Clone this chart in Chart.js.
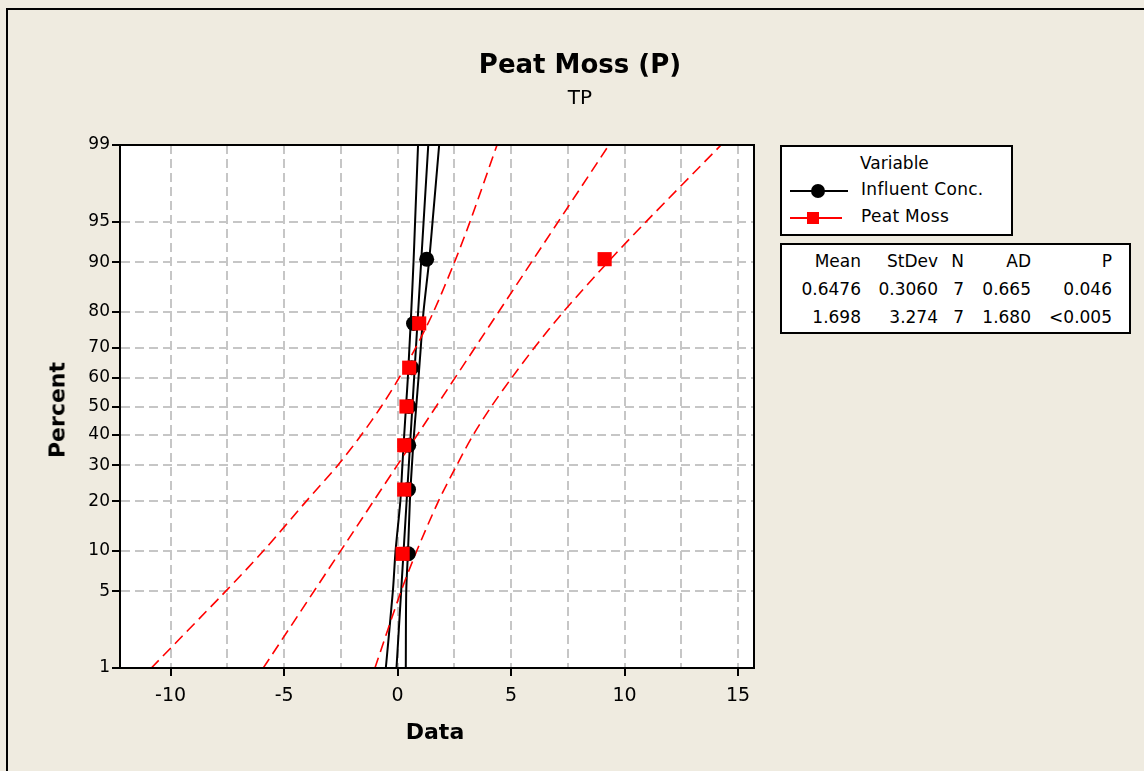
<!DOCTYPE html>
<html lang="en">
<head>
    <meta charset="UTF-8">
    <title>Peat Moss (P)</title>
    <script src="https://cdn.jsdelivr.net/npm/chart.js@4.4.1/dist/chart.umd.min.js"></script>
    <style>
        body { margin: 0; background: #efebe0; font-family: "DejaVu Sans", sans-serif; }
        #wrap { position: relative; width: 1144px; height: 771px; overflow: hidden; }
        #frame { position: absolute; left: 6px; top: 8px; width: 1160px; height: 790px; border: 2px solid #000; }
        canvas { position: absolute; left: 0; top: 0; }
        .txt { position: absolute; color: #000; white-space: nowrap; }
        #title { left: 0; width: 1160px; top: 49px; text-align: center; font-weight: bold; font-size: 26px; }
        #subtitle { left: 0; width: 1160px; top: 85px; text-align: center; font-size: 20px; }
        #ytitle { left: 57px; top: 410px; font-weight: bold; font-size: 22px; transform: translate(-50%, -50%) rotate(-90deg); }
        #xtitle { left: 435px; top: 731px; font-weight: bold; font-size: 22px; transform: translate(-50%, -50%); }
        .box { position: absolute; border: 2px solid #000; background: #fff; box-sizing: border-box; font-size: 17px; }
        #legend { left: 780px; top: 145px; width: 233px; height: 91px; }
        #stats { left: 780px; top: 243px; width: 351px; height: 91px; }
        .leg-line { position: absolute; height: 2px; }
        .cell { position: absolute; text-align: right; }
    </style>
</head>
<body>
<div id="wrap">
    <div id="frame"></div>
    <canvas id="myChart" width="1144" height="771"></canvas>
    <div class="txt" id="title">Peat Moss (P)</div>
    <div class="txt" id="subtitle">TP</div>
    <div class="txt" id="ytitle">Percent</div>
    <div class="txt" id="xtitle">Data</div>
    <div class="box" id="legend"></div>
    <div class="box" id="stats"></div>
</div>
<script>
    // percent scale ticks and plotting positions
    const percentTicks  = [1, 5, 10, 20, 30, 40, 50, 60, 70, 80, 90, 95, 99];
    const dataTicks     = [-10, -7.5, -5, -2.5, 0, 2.5, 5, 7.5, 10, 12.5, 15];
    const rankPercent   = [9.5, 23.0, 36.5, 50.0, 63.5, 77.0, 90.5];

    const influentConc  = [0.47, 0.48, 0.49, 0.50, 0.62, 0.70, 1.28];
    const peatMoss      = [0.22, 0.29, 0.29, 0.39, 0.51, 0.95, 9.12];

    // fitted lines (ends at 1% and 99%)
    const fitPercent    = [1, 99];
    const influentFit   = [-0.05, 1.35];
    const peatFit       = [-5.92, 9.31];

    // confidence bands, one value per percent tick
    const influentLower = [-0.52, -0.21, -0.09, 0.12, 0.21, 0.29, 0.37, 0.45, 0.52, 0.60, 0.70, 0.77, 0.90];
    const influentUpper = [0.36, 0.38, 0.46, 0.54, 0.63, 0.72, 0.82, 0.92, 1.02, 1.14, 1.38, 1.54, 1.83];
    const peatLower     = [-10.85, -7.58, -5.90, -4.02, -2.64, -1.60, -0.72, 0.06, 0.80, 1.58, 2.50, 3.19, 4.38];
    const peatUpper     = [-1.00, 0.15, 0.85, 1.80, 2.60, 3.33, 4.13, 5.02, 6.03, 7.30, 9.25, 10.95, 14.25];

    // legend + stats table
    const seriesNames   = ['Influent Conc.', 'Peat Moss'];
    const statHeads     = ['Mean', 'StDev', 'N', 'AD', 'P'];
    const statRows      = [['0.6476', '0.3060', '7', '0.665', '0.046'],
                           ['1.698', '3.274', '7', '1.680', '<0.005']];

    // inverse normal cdf (Acklam) for the probability axis
    function probit(p){
        const a = [-3.969683028665376e+01, 2.209460984245205e+02, -2.759285104469687e+02, 1.383577518672690e+02, -3.066479806614716e+01, 2.506628277459239e+00];
        const b = [-5.447609879822406e+01, 1.615858368580409e+02, -1.556989798598866e+02, 6.680131188771972e+01, -1.328068155922525e+01];
        const c = [-7.784894002430293e-03, -3.223964580411365e-01, -2.400758277161838e+00, -2.549732539343734e+00, 4.374664141464968e+00, 2.938163982698783e+00];
        const d = [7.784695709041462e-03, 3.224671290700398e-01, 2.445134137142996e+00, 3.754408661907416e+00];
        const pl = 0.02425;
        let q, r;
        if (p < pl) {
            q = Math.sqrt(-2 * Math.log(p));
            return (((((c[0]*q+c[1])*q+c[2])*q+c[3])*q+c[4])*q+c[5]) / ((((d[0]*q+d[1])*q+d[2])*q+d[3])*q+1);
        }
        if (p > 1 - pl) {
            q = Math.sqrt(-2 * Math.log(1 - p));
            return -(((((c[0]*q+c[1])*q+c[2])*q+c[3])*q+c[4])*q+c[5]) / ((((d[0]*q+d[1])*q+d[2])*q+d[3])*q+1);
        }
        q = p - 0.5; r = q * q;
        return (((((a[0]*r+a[1])*r+a[2])*r+a[3])*r+a[4])*r+a[5])*q / (((((b[0]*r+b[1])*r+b[2])*r+b[3])*r+b[4])*r+1);
    }

    const pts = (xs, ps) => xs.map((x, i) => ({x: x, y: probit(ps[i] / 100)}));

    const red = '#ff0000';
    const lineSet = (data, color, dash, order) => ({
        data: data, showLine: true, borderColor: color, borderWidth: color === red ? 1.6 : 2,
        borderDash: dash, pointRadius: 0, tension: 0.3, fill: false, order: order
    });

    const plotBox = {
        id: 'plotBox',
        beforeDraw(chart){
            const {ctx, chartArea: a} = chart;
            ctx.save();
            ctx.fillStyle = '#fff';
            ctx.fillRect(a.left, a.top, a.right - a.left, a.bottom - a.top);
            ctx.restore();
        },
        afterDraw(chart){
            const {ctx, chartArea: a} = chart;
            ctx.save();
            ctx.strokeStyle = '#000';
            ctx.lineWidth = 2;
            ctx.strokeRect(a.left, a.top, a.right - a.left, a.bottom - a.top);
            ctx.restore();
        }
    };

    const ctx = document.getElementById('myChart').getContext('2d');
    const myChart = new Chart(ctx, {
        type: 'scatter',
        data: {
            datasets: [
                {label: seriesNames[1], data: pts(peatMoss, rankPercent), pointStyle: 'rect', pointRadius: 10,
                 backgroundColor: red, borderColor: red, borderWidth: 0, order: 0},
                {label: seriesNames[0], data: pts(influentConc, rankPercent), pointStyle: 'circle', pointRadius: 7.5,
                 backgroundColor: '#000', borderColor: '#000', borderWidth: 0, order: 1},
                lineSet(pts(peatFit, fitPercent), red, [11, 6], 2),
                lineSet(pts(peatLower, percentTicks), red, [11, 6], 2),
                lineSet(pts(peatUpper, percentTicks), red, [11, 6], 2),
                lineSet(pts(influentFit, fitPercent), '#000', [], 3),
                lineSet(pts(influentLower, percentTicks), '#000', [], 3),
                lineSet(pts(influentUpper, percentTicks), '#000', [], 3)
            ]
        },
        options: {
            responsive: false,
            animation: false,
            layout: {padding: {left: 0, top: 145, right: 390, bottom: 0}},
            plugins: {legend: {display: false}, tooltip: {enabled: false}},
            scales: {
                x: {
                    type: 'linear', min: -12.23, max: 15.70,
                    afterBuildTicks: s => { s.ticks = dataTicks.map(v => ({value: v})); },
                    afterFit: s => { s.height = 103; },
                    ticks: {
                        color: '#000', font: {family: 'DejaVu Sans', size: 19}, padding: 9,
                        callback: v => (v % 5 === 0 ? v : '')
                    },
                    grid: {
                        color: '#c6c6c6', lineWidth: 2, tickLength: 8, tickWidth: 2,
                        tickColor: c => (c.tick && c.tick.value % 5 === 0 ? '#000' : 'rgba(0,0,0,0)')
                    },
                    border: {color: '#000', width: 2, dash: [9, 5]}
                },
                y: {
                    type: 'linear', min: probit(0.01), max: probit(0.99),
                    afterBuildTicks: s => { s.ticks = percentTicks.map(p => ({value: probit(p / 100)})); },
                    afterFit: s => { s.width = 120; },
                    ticks: {
                        color: '#000', font: {family: 'DejaVu Sans', size: 17}, padding: 2,
                        callback: (v, i) => percentTicks[i]
                    },
                    grid: {color: '#c6c6c6', lineWidth: 2, tickLength: 8, tickWidth: 2, tickColor: '#000'},
                    border: {color: '#000', width: 2, dash: [9, 5]}
                }
            }
        },
        plugins: [plotBox]
    });

    // legend box
    const legend = document.getElementById('legend');
    let html = '<div class="txt" style="left:78px;top:6px;">Variable</div>';
    const legColors = ['#000', red];
    seriesNames.forEach((name, i) => {
        const y = 44 + i * 27;
        const mark = i === 0
            ? `<div style="position:absolute;left:29px;top:${y - 7}px;width:14px;height:14px;border-radius:50%;background:#000"></div>`
            : `<div style="position:absolute;left:25px;top:${y - 6}px;width:12px;height:12px;background:${red}"></div>`;
        html += `<div class="leg-line" style="left:8px;top:${y - 1}px;width:${i === 0 ? 58 : 52}px;background:${legColors[i]}"></div>` + mark +
                `<div class="txt" style="left:79px;top:${y - 12}px;letter-spacing:0.3px">${name}</div>`;
    });
    legend.innerHTML = html;

    // stats table
    const stats = document.getElementById('stats');
    const colRight = [81, 158, 184, 251, 332];
    let sh = '';
    [statHeads].concat(statRows).forEach((row, r) => {
        row.forEach((cell, c) => {
            sh += `<div class="cell" style="right:${349 - colRight[c]}px;top:${6 + r * 28}px">${cell.replace('<', '&lt;')}</div>`;
        });
    });
    stats.innerHTML = sh;
</script>
</body>
</html>
